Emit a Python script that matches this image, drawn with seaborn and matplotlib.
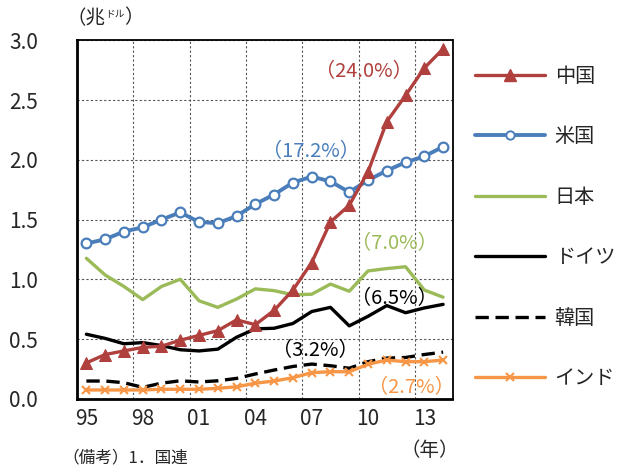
import matplotlib
matplotlib.use("Agg")
import matplotlib.pyplot as plt
import seaborn as sns
import pandas as pd
from matplotlib.lines import Line2D

years = list(range(1995, 2015))
china = [0.30, 0.37, 0.40, 0.43, 0.44, 0.49, 0.53, 0.57, 0.66, 0.62, 0.74, 0.91, 1.14, 1.48, 1.62, 1.90, 2.32, 2.54, 2.77, 2.93]
usa = [1.30, 1.335, 1.40, 1.435, 1.50, 1.56, 1.48, 1.47, 1.53, 1.63, 1.71, 1.81, 1.86, 1.82, 1.73, 1.83, 1.91, 1.98, 2.03, 2.11]
japan = [1.176, 1.036, 0.94, 0.83, 0.94, 1.00, 0.82, 0.765, 0.835, 0.92, 0.905, 0.87, 0.875, 0.96, 0.90, 1.07, 1.09, 1.105, 0.91, 0.85]
germany = [0.54, 0.505, 0.46, 0.47, 0.445, 0.41, 0.40, 0.415, 0.515, 0.585, 0.59, 0.63, 0.73, 0.765, 0.61, 0.69, 0.78, 0.72, 0.76, 0.79]
korea = [0.148, 0.148, 0.134, 0.095, 0.13, 0.15, 0.14, 0.15, 0.17, 0.207, 0.24, 0.27, 0.29, 0.276, 0.255, 0.31, 0.34, 0.345, 0.37, 0.39]
india = [0.073, 0.073, 0.073, 0.073, 0.079, 0.079, 0.079, 0.087, 0.10, 0.13, 0.148, 0.176, 0.218, 0.226, 0.226, 0.288, 0.324, 0.31, 0.31, 0.324]

xtick_years = [1995, 1998, 2001, 2004, 2007, 2010, 2013]
xtick_labels = ["95", "98", "01", "04", "07", "10", "13"]
growth_labels = {"中国": "（24.0%）", "米国": "（17.2%）", "日本": "（7.0%）",
                 "ドイツ": "（6.5%）", "韓国": "（3.2%）", "インド": "（2.7%）"}

sns.set_style("white")
plt.rcParams["font.family"] = ["Noto Sans CJK JP", "DejaVu Sans"]

fig = plt.figure(figsize=(6.27, 4.66), dpi=100)
ax = fig.add_axes([77 / 627, 1 - 398.7 / 466, (452.5 - 77) / 627, (398.7 - 40.5) / 466])

RED = "#B0403D"
BLUE = "#4A7EBB"
GREEN = "#9BBB59"
ORANGE = "#F79646"
BLACK = "#000000"

def df_of(vals):
    return pd.DataFrame({"year": years, "v": vals})

lw = 2.4
sns.lineplot(data=df_of(japan), x="year", y="v", ax=ax, color=GREEN, lw=lw)
sns.lineplot(data=df_of(germany), x="year", y="v", ax=ax, color=BLACK, lw=lw)
sns.lineplot(data=df_of(korea), x="year", y="v", ax=ax, color=BLACK, lw=lw, dashes=False)
ax.lines[-1].set_dashes((4, 2))
sns.lineplot(data=df_of(india), x="year", y="v", ax=ax, color=ORANGE, lw=lw,
             marker="x", markersize=6, markeredgewidth=1.5, markeredgecolor=ORANGE)
sns.lineplot(data=df_of(usa), x="year", y="v", ax=ax, color=BLUE, lw=2.8,
             marker="o", markersize=7, markerfacecolor="white", markeredgecolor=BLUE, markeredgewidth=1.6)
sns.lineplot(data=df_of(china), x="year", y="v", ax=ax, color=RED, lw=lw,
             marker="^", markersize=9, markeredgecolor=RED, markerfacecolor=RED)

ax.set_xlim(1994.5, 2014.5)
ax.set_ylim(0, 3.0)
ax.set_xticks(xtick_years)
ax.set_xticklabels(xtick_labels)
ax.set_xticks([1997.5, 2000.5, 2003.5, 2006.5, 2009.5, 2012.5], minor=True)
ax.set_yticks([0, 0.5, 1.0, 1.5, 2.0, 2.5, 3.0])
ax.set_yticklabels(["0.0", "0.5", "1.0", "1.5", "2.0", "2.5", "3.0"])
ax.tick_params(axis="both", which="both", length=0, labelsize=15)
ax.tick_params(axis="x", pad=7)
ax.tick_params(axis="y", pad=28)
for lab in ax.get_yticklabels():
    lab.set_horizontalalignment("right")
ax.grid(False)
ax.xaxis.grid(True, which="minor", linestyle=(0, (2, 2)), color="#555555", lw=0.8)
ax.yaxis.grid(True, which="major", linestyle=(0, (2, 2)), color="#555555", lw=0.8)
ax.set_axisbelow(True)
ax.set_xlabel("")
ax.set_ylabel("")
for s in ax.spines.values():
    s.set_color("black")
    s.set_linewidth(1.3)
    s.set_visible(True)
ax.spines["left"].set_linewidth(2)
ax.spines["bottom"].set_linewidth(2)

# growth annotations
fs_ann = 14.5
ax.text(2009.8, 2.74, growth_labels["中国"], color=RED, fontsize=fs_ann, ha="center", va="center")
ax.text(2006.95, 2.07, growth_labels["米国"], color=BLUE, fontsize=fs_ann, ha="center", va="center")
ax.text(2011.4, 1.30, growth_labels["日本"], color=GREEN, fontsize=fs_ann, ha="center", va="center")
ax.text(2011.4, 0.84, growth_labels["ドイツ"], color=BLACK, fontsize=fs_ann, ha="center", va="center")
ax.text(2007.2, 0.40, growth_labels["韓国"], color=BLACK, fontsize=fs_ann, ha="center", va="center")
ax.text(2012.3, 0.095, growth_labels["インド"], color=ORANGE, fontsize=fs_ann, ha="center", va="center")

# unit label
t1 = fig.text(66 / 627, 1 - 19 / 466, "（兆", fontsize=14, ha="left", va="center")
t2 = ax.annotate("ドル", xy=(1, 0.75), xycoords=t1, fontsize=7, ha="left", va="center",
                 annotation_clip=False)
t3 = ax.annotate("）", xy=(1, 0.5), xycoords=t2, xytext=(0, -2.5), textcoords="offset points",
                 fontsize=14, ha="left", va="center", annotation_clip=False)

fig.text(430 / 627, 1 - 451 / 466, "（年）", fontsize=14, ha="center", va="center")
fig.text(62 / 627, 1 - 458 / 466, "（備考）1．国連", fontsize=12, ha="left", va="center")

handles = [
    Line2D([], [], color=RED, lw=lw, marker="^", markersize=9, markerfacecolor=RED, markeredgecolor=RED),
    Line2D([], [], color=BLUE, lw=2.8, marker="o", markersize=6, markerfacecolor="white", markeredgecolor=BLUE, markeredgewidth=1.4),
    Line2D([], [], color=GREEN, lw=lw),
    Line2D([], [], color=BLACK, lw=lw),
    Line2D([], [], color=BLACK, lw=lw, dashes=(4, 2)),
    Line2D([], [], color=ORANGE, lw=lw, marker="x", markersize=6, markeredgewidth=1.5),
]
labels = ["中国", "米国", "日本", "ドイツ", "韓国", "インド"]
leg = fig.legend(handles, labels, loc="upper left", bbox_to_anchor=(475 / 627, 1 - 66 / 466),
                 frameon=False, fontsize=14.5, handlelength=3.5, handletextpad=0.45,
                 labelspacing=1.96, numpoints=1, borderaxespad=0, borderpad=0)

fig.savefig("out.png", dpi=100)
